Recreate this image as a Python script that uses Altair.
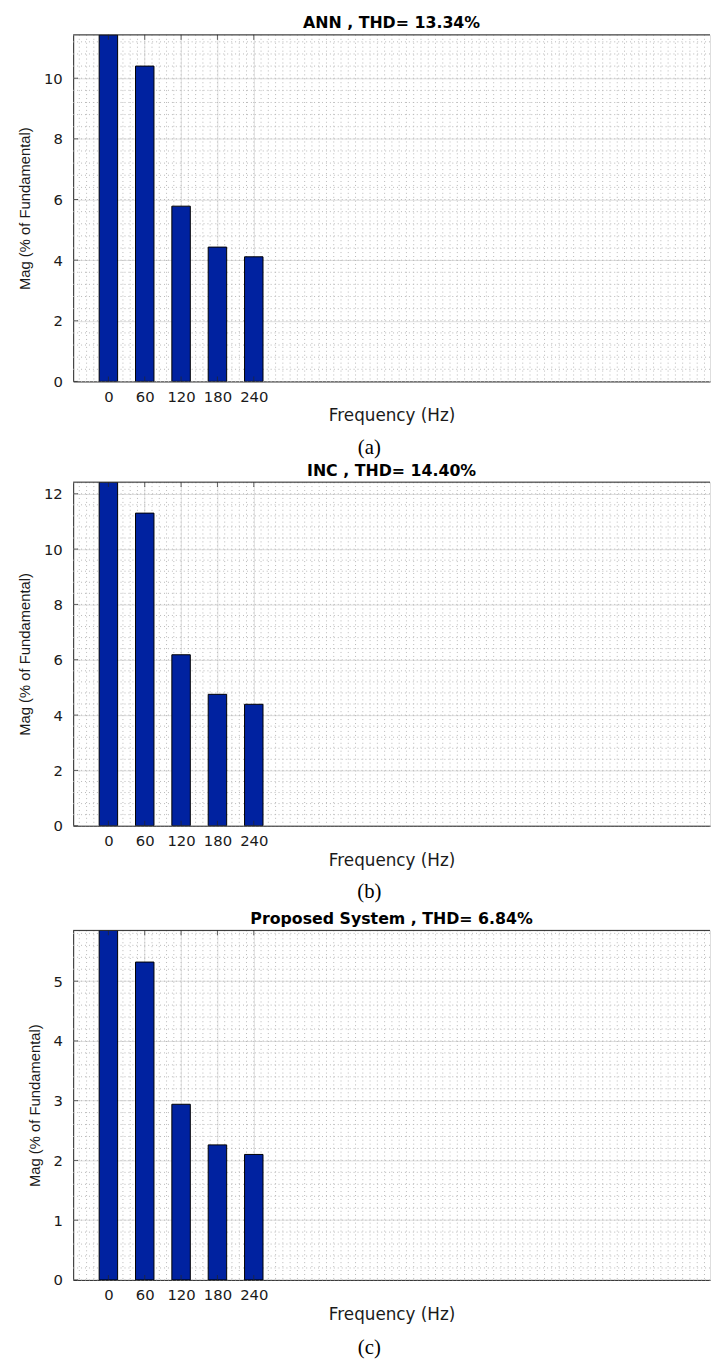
import altair as alt
import numpy as np
import pandas as pd

# ---- data ----
freqs = [0, 60, 120, 180, 240]
freq_ticks = [0, 60, 120, 180, 240]
titles = ["ANN , THD= 13.34%", "INC , THD= 14.40%", "Proposed System , THD= 6.84%"]
captions = ["(a)", "(b)", "(c)"]
mag_ann = [11.43, 10.40, 5.78, 4.43, 4.11]
mag_inc = [12.42, 11.30, 6.18, 4.75, 4.39]
mag_prop = [5.85, 5.32, 2.94, 2.26, 2.10]
y_max = [11.43, 12.42, 5.85]
y_ticks = [[0, 2, 4, 6, 8, 10], [0, 2, 4, 6, 8, 10, 12], [0, 1, 2, 3, 4, 5]]
y_minor_step = [0.4, 0.4, 0.2]
x_domain = [-50, 985]
x_minor_step = 12

# ---- layout / style ----
W = 645
H = [351, 348, 354]
CAP_OFF = [68, 67, 69]      # caption centre below plot bottom
SPACER_OFF = [68, 72, 69]   # invisible spacer to tune gap to next panel
BAR_COLOR = "#0022a0"
AX_COLOR = "#262626"
LABEL_FONT = "DejaVu Sans"


def panel(i, mags):
    h = H[i]
    ymax = y_max[i]
    xs = alt.Scale(domain=x_domain, nice=False, zero=False)
    ys = alt.Scale(domain=[0, ymax], nice=False, zero=False)

    x_axis = alt.Axis(
        values=freq_ticks,
        title="Frequency (Hz)",
        grid=True,
        gridColor="#e0e0e0",
        ticks=False,
        tickSize=0,
        labelPadding=8,
        labelFont=LABEL_FONT,
        labelFontSize=15,
        labelColor="#1a1a1a",
        titleFont=LABEL_FONT,
        titleFontSize=17,
        titleFontWeight="normal",
        titleColor="#1a1a1a",
        titlePadding=4,
        domainColor=AX_COLOR,
        labelFlush=False,
    )
    y_axis = alt.Axis(
        values=y_ticks[i],
        title="Mag (% of Fundamental)",
        grid=True,
        gridColor="#e0e0e0",
        ticks=False,
        tickSize=0,
        labelPadding=11,
        labelFont=LABEL_FONT,
        labelFontSize=15,
        labelColor="#1a1a1a",
        titleFont="Liberation Sans",
        titleFontSize=15,
        titleFontWeight="normal",
        titleColor="#1a1a1a",
        titlePadding=11,
        domainColor=AX_COLOR,
        labelFlush=False,
    )

    bars_df = pd.DataFrame({"f": freqs, "m": mags})
    minor_x = pd.DataFrame({"f": np.arange(-48, x_domain[1], x_minor_step)})
    minor_y = pd.DataFrame({"m": np.arange(0, ymax, y_minor_step[i])})
    xt_df = pd.DataFrame({"f": freq_ticks})
    yt_df = pd.DataFrame({"m": y_ticks[i]})
    cap_df = pd.DataFrame({"c": [captions[i]]})

    X = alt.X("f:Q", scale=xs, axis=x_axis)
    Y = alt.Y("m:Q", scale=ys, axis=y_axis)

    gx = alt.Chart(minor_x).mark_rule(
        color="#b8b8b8", strokeWidth=1, strokeDash=[1, 3]
    ).encode(x=X)
    gy = alt.Chart(minor_y).mark_rule(
        color="#b8b8b8", strokeWidth=1, strokeDash=[1, 3]
    ).encode(y=Y)

    bars = alt.Chart(bars_df).mark_bar(
        size=18.7, color=BAR_COLOR, stroke="black", strokeWidth=1, clip=True
    ).encode(x=X, y=Y)

    top_border = alt.Chart(cap_df).mark_rule(color=AX_COLOR, strokeWidth=1).encode(
        y=alt.value(0), x=alt.value(0), x2=alt.value(W)
    )

    tick_style = dict(color=AX_COLOR, thickness=1, size=5)
    bot_ticks = alt.Chart(xt_df).mark_tick(orient="vertical", yOffset=-2.5, **tick_style).encode(
        x=X, y=alt.value(h)
    )
    top_ticks = alt.Chart(xt_df).mark_tick(orient="vertical", yOffset=2.5, **tick_style).encode(
        x=X, y=alt.value(0)
    )
    left_ticks = alt.Chart(yt_df).mark_tick(orient="horizontal", xOffset=2.5, **tick_style).encode(
        y=Y, x=alt.value(0)
    )

    caption = alt.Chart(cap_df).mark_text(
        font="Liberation Serif", fontSize=21, color="black", baseline="middle", align="center"
    ).encode(text="c:N", x=alt.value(300), y=alt.value(h + CAP_OFF[i]))

    spacer = alt.Chart(cap_df).mark_text(
        font="Liberation Serif", fontSize=21, opacity=0, baseline="middle", align="center"
    ).encode(text="c:N", x=alt.value(300), y=alt.value(h + SPACER_OFF[i]))

    return alt.layer(
        gx, gy, bars, top_border, bot_ticks, top_ticks, left_ticks, caption, spacer
    ).properties(
        width=W,
        height=h,
        title=alt.Title(
            titles[i],
            font=LABEL_FONT,
            fontSize=16,
            fontWeight="bold",
            color="black",
            offset=3,
            anchor="middle",
        ),
    )


chart = alt.vconcat(
    panel(0, mag_ann), panel(1, mag_inc), panel(2, mag_prop), spacing=3
).properties(
    padding={"left": 9, "top": -1.5, "right": 0, "bottom": 0}
).configure_view(stroke=None).configure(background="white")

chart.save("out.html", embed_options={"renderer": "svg", "actions": False})
